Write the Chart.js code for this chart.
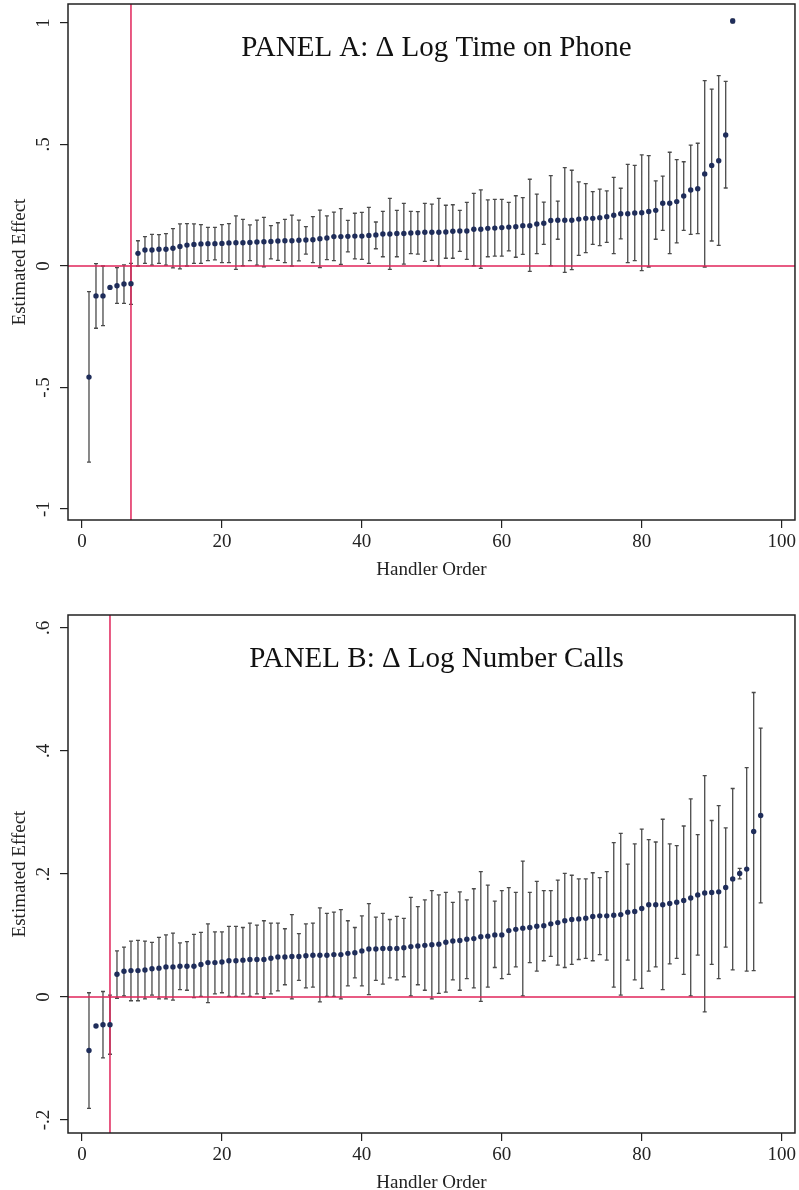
<!DOCTYPE html>
<html>
<head>
<meta charset="utf-8">
<script src="https://cdn.jsdelivr.net/npm/chart.js@4.4.1/dist/chart.umd.min.js"></script>
<style>
  html, body { margin: 0; padding: 0; background: #fff; }
  #wrap { position: relative; width: 799px; height: 1190px; }
  canvas { position: absolute; left: 0; }
</style>
</head>
<body>
<div id="wrap">
  <canvas id="panelA" width="799" height="598" style="top:0"></canvas>
  <canvas id="panelB" width="799" height="590" style="top:600px"></canvas>
</div>
<script>
// handler-order plots: estimated effect per handler with 95% CI bars

const FONT = '"Liberation Serif", "Times New Roman", serif';
const RED = '#e0245a';
const DOT = '#1f2d5a';
const BAR = '#4a4a4a';

const xTicks = [0, 20, 40, 60, 80, 100];
const aYTicks = [1, 0.5, 0, -0.5, -1];
const aYLabels = ['1', '.5', '0', '-.5', '-1'];
const bYTicks = [0.6, 0.4, 0.2, 0, -0.2];
const bYLabels = ['.6', '.4', '.2', '0', '-.2'];

// Panel A: Δ log time on phone (handlers 1..93)
const aEst = [
  -0.457, -0.123, -0.123, -0.088, -0.081, -0.074, -0.073, 0.052, 0.066, 0.066,
  0.069, 0.069, 0.073, 0.080, 0.086, 0.089, 0.091, 0.092, 0.092, 0.093,
  0.095, 0.096, 0.096, 0.097, 0.099, 0.100, 0.101, 0.103, 0.104, 0.104,
  0.106, 0.107, 0.108, 0.112, 0.115, 0.121, 0.121, 0.122, 0.123, 0.123,
  0.126, 0.128, 0.132, 0.132, 0.134, 0.134, 0.136, 0.137, 0.139, 0.139,
  0.139, 0.140, 0.143, 0.144, 0.144, 0.151, 0.151, 0.155, 0.156, 0.158,
  0.160, 0.162, 0.166, 0.166, 0.173, 0.176, 0.187, 0.188, 0.188, 0.188,
  0.193, 0.196, 0.196, 0.199, 0.203, 0.209, 0.215, 0.215, 0.218, 0.219,
  0.224, 0.229, 0.258, 0.258, 0.265, 0.288, 0.313, 0.318, 0.379, 0.414,
  0.433, 0.539, 1.008
];
const aHi = [
  -0.105, 0.010, 0.000, null, -0.007, 0.005, 0.011, 0.104, 0.121, 0.130,
  0.129, 0.133, 0.154, 0.173, 0.174, 0.173, 0.170, 0.159, 0.159, 0.170,
  0.174, 0.206, 0.192, 0.169, 0.189, 0.200, 0.166, 0.178, 0.192, 0.209,
  0.189, 0.162, 0.203, 0.230, 0.206, 0.222, 0.236, 0.188, 0.217, 0.221,
  0.241, 0.181, 0.225, 0.278, 0.229, 0.258, 0.225, 0.224, 0.258, 0.255,
  0.278, 0.250, 0.252, 0.229, 0.262, 0.299, 0.313, 0.272, 0.274, 0.274,
  0.262, 0.289, 0.281, 0.357, 0.296, 0.263, 0.372, 0.267, 0.405, 0.394,
  0.346, 0.339, 0.306, 0.316, 0.309, 0.365, 0.320, 0.418, 0.414, 0.457,
  0.454, 0.350, 0.370, 0.468, 0.438, 0.429, 0.497, 0.505, 0.763, 0.728,
  0.783, 0.760, 1.016
];
const aLo = [
  -0.807, -0.256, -0.245, null, -0.154, -0.154, -0.158, 0.000, 0.011, 0.004,
  0.011, 0.004, -0.008, -0.012, 0.000, 0.011, 0.011, 0.022, 0.025, 0.014,
  0.014, -0.014, 0.001, 0.022, 0.004, -0.003, 0.029, 0.023, 0.014, 0.000,
  0.021, 0.049, 0.014, -0.007, 0.026, 0.022, 0.007, 0.058, 0.029, 0.027,
  0.011, 0.071, 0.038, -0.014, 0.038, 0.008, 0.051, 0.049, 0.019, 0.023,
  0.000, 0.032, 0.032, 0.060, 0.027, 0.001, -0.010, 0.038, 0.041, 0.041,
  0.062, 0.036, 0.048, -0.022, 0.051, 0.089, 0.001, 0.110, -0.026, -0.015,
  0.044, 0.055, 0.089, 0.084, 0.097, 0.051, 0.112, 0.014, 0.022, -0.019,
  -0.004, 0.110, 0.147, 0.051, 0.095, 0.147, 0.130, 0.133, -0.004, 0.103,
  0.085, 0.321, 1.000
];

// Panel B: Δ log number calls (handlers 1..97)
const bEst = [
  -0.087, -0.047, -0.045, -0.045, 0.037, 0.042, 0.043, 0.043, 0.044, 0.046,
  0.047, 0.049, 0.049, 0.050, 0.050, 0.050, 0.053, 0.056, 0.056, 0.057,
  0.059, 0.059, 0.060, 0.061, 0.061, 0.061, 0.063, 0.065, 0.065, 0.066,
  0.066, 0.067, 0.068, 0.068, 0.068, 0.069, 0.069, 0.071, 0.072, 0.075,
  0.078, 0.078, 0.079, 0.079, 0.079, 0.080, 0.082, 0.083, 0.084, 0.085,
  0.086, 0.089, 0.091, 0.092, 0.094, 0.095, 0.098, 0.099, 0.101, 0.101,
  0.108, 0.110, 0.112, 0.113, 0.115, 0.116, 0.119, 0.121, 0.124, 0.126,
  0.127, 0.128, 0.131, 0.132, 0.132, 0.133, 0.134, 0.138, 0.139, 0.144,
  0.150, 0.150, 0.150, 0.152, 0.154, 0.157, 0.161, 0.166, 0.169, 0.170,
  0.171, 0.178, 0.192, 0.201, 0.208, 0.269, 0.295
];
const bHi = [
  0.007, null, 0.009, 0.003, 0.075, 0.081, 0.091, 0.092, 0.091, 0.089,
  0.097, 0.101, 0.104, 0.088, 0.090, 0.102, 0.105, 0.119, 0.106, 0.106,
  0.115, 0.115, 0.113, 0.120, 0.117, 0.124, 0.120, 0.120, 0.111, 0.134,
  0.103, 0.119, 0.120, 0.145, 0.136, 0.138, 0.142, 0.124, 0.113, 0.132,
  0.152, 0.130, 0.136, 0.126, 0.131, 0.128, 0.162, 0.147, 0.158, 0.173,
  0.166, 0.170, 0.154, 0.171, 0.158, 0.176, 0.204, 0.182, 0.156, 0.173,
  0.178, 0.170, 0.221, 0.170, 0.188, 0.173, 0.173, 0.190, 0.201, 0.198,
  0.192, 0.192, 0.202, 0.194, 0.204, 0.251, 0.266, 0.216, 0.249, 0.273,
  0.256, 0.252, 0.289, 0.249, 0.246, 0.278, 0.322, 0.264, 0.360, 0.287,
  0.311, 0.275, 0.339, 0.209, 0.373, 0.495, 0.437
];
const bLo = [
  -0.181, null, -0.099, -0.093, -0.002, 0.002, -0.006, -0.006, -0.003, 0.003,
  -0.003, -0.003, -0.005, 0.012, 0.011, -0.001, 0.001, -0.009, 0.005, 0.007,
  0.001, 0.001, 0.005, 0.001, 0.005, -0.002, 0.005, 0.010, 0.020, -0.003,
  0.027, 0.015, 0.016, -0.008, 0.001, 0.001, -0.003, 0.018, 0.031, 0.018,
  0.004, 0.027, 0.021, 0.031, 0.028, 0.033, 0.002, 0.020, 0.011, -0.003,
  0.006, 0.008, 0.028, 0.011, 0.030, 0.015, -0.007, 0.016, 0.048, 0.030,
  0.037, 0.049, 0.002, 0.056, 0.042, 0.059, 0.066, 0.052, 0.048, 0.053,
  0.061, 0.063, 0.059, 0.069, 0.060, 0.016, 0.003, 0.060, 0.028, 0.014,
  0.042, 0.049, 0.012, 0.054, 0.063, 0.037, 0.002, 0.068, -0.024, 0.053,
  0.030, 0.081, 0.044, 0.192, 0.042, 0.043, 0.153
];

function panel(id, cfg) {
  const { title, est, lo, hi, refX, yMin, yMax, yTicks, yLabels, padTop, xHeight } = cfg;

  const overlay = {
    id: 'overlay_' + id,
    beforeDatasetsDraw(chart) {
      const { ctx, chartArea: a, scales: { x, y } } = chart;
      // CI bars first, reference lines on top of them
      ctx.save();
      ctx.beginPath();
      ctx.rect(a.left, a.top, a.right - a.left, a.bottom - a.top);
      ctx.clip();
      ctx.strokeStyle = BAR;
      ctx.lineWidth = 1.3;
      ctx.beginPath();
      lo.forEach((l, i) => {
        if (l == null || hi[i] == null) return;
        const px = x.getPixelForValue(i + 1);
        const p1 = y.getPixelForValue(l), p2 = y.getPixelForValue(hi[i]);
        ctx.moveTo(px, p1); ctx.lineTo(px, p2);
        ctx.moveTo(px - 2, p1); ctx.lineTo(px + 2, p1);
        ctx.moveTo(px - 2, p2); ctx.lineTo(px + 2, p2);
      });
      ctx.stroke();
      ctx.strokeStyle = RED;
      ctx.lineWidth = 1.5;
      const y0 = y.getPixelForValue(0);
      const xr = x.getPixelForValue(refX);
      ctx.beginPath();
      ctx.moveTo(a.left, y0); ctx.lineTo(a.right, y0);
      ctx.stroke();
      ctx.beginPath();
      ctx.moveTo(xr, a.top); ctx.lineTo(xr, a.bottom);
      ctx.stroke();
      ctx.restore();
    },
    afterDraw(chart) {
      const { ctx, chartArea: a, scales: { y } } = chart;
      ctx.save();
      // frame
      ctx.strokeStyle = '#222';
      ctx.lineWidth = 1.5;
      ctx.strokeRect(a.left, a.top, a.right - a.left, a.bottom - a.top);
      ctx.fillStyle = '#222';
      // rotated y tick labels
      ctx.font = '19px ' + FONT;
      ctx.textAlign = 'center';
      ctx.textBaseline = 'middle';
      yTicks.forEach((v, i) => {
        ctx.save();
        ctx.translate(a.left - 24, y.getPixelForValue(v));
        ctx.rotate(-Math.PI / 2);
        ctx.fillText(yLabels[i], 0, 0);
        ctx.restore();
      });
      // y title
      ctx.save();
      ctx.translate(20, (a.top + a.bottom) / 2);
      ctx.rotate(-Math.PI / 2);
      ctx.fillText('Estimated Effect', 0, 0);
      ctx.restore();
      // x title
      ctx.fillText('Handler Order', (a.left + a.right) / 2, a.bottom + 50);
      // panel title inside plot
      ctx.font = '29px ' + FONT;
      ctx.fillStyle = '#111';
      ctx.fillText(title, (a.left + a.right) / 2 + 5, a.top + 44);
      ctx.restore();
    }
  };

  return new Chart(document.getElementById(id), {
    type: 'scatter',
    data: {
      datasets: [{
        data: est.map((v, i) => ({ x: i + 1, y: v })),
        backgroundColor: DOT,
        borderColor: DOT,
        pointRadius: 2.7,
        borderWidth: 0
      }]
    },
    options: {
      responsive: false,
      animation: false,
      devicePixelRatio: 1,
      events: [],
      layout: { padding: { top: padTop, right: 4, left: 0, bottom: 0 } },
      plugins: { legend: { display: false }, tooltip: { enabled: false } },
      scales: {
        x: {
          type: 'linear', min: -2, max: 101.9,
          afterBuildTicks: s => { s.ticks = xTicks.map(v => ({ value: v })); },
          afterFit: s => { s.height = xHeight; },
          ticks: { font: { family: FONT, size: 19 }, color: '#222', padding: 3, maxRotation: 0, autoSkip: false },
          grid: { drawOnChartArea: false, drawTicks: true, tickLength: 8, color: '#222', lineWidth: 1.2 },
          border: { display: false }
        },
        y: {
          min: yMin, max: yMax,
          afterBuildTicks: s => { s.ticks = yTicks.map(v => ({ value: v })); },
          afterFit: s => { s.width = 68; },
          ticks: { display: false },
          grid: { drawOnChartArea: false, drawTicks: true, tickLength: 8, color: '#222', lineWidth: 1.2 },
          border: { display: false }
        }
      }
    },
    plugins: [overlay]
  });
}

panel('panelA', {
  title: 'PANEL A: \u0394 Log Time on Phone',
  est: aEst, lo: aLo, hi: aHi, refX: 7,
  yMin: -1.045, yMax: 1.078, yTicks: aYTicks, yLabels: aYLabels,
  padTop: 4, xHeight: 78
});

panel('panelB', {
  title: 'PANEL B: \u0394 Log Number Calls',
  est: bEst, lo: bLo, hi: bHi, refX: 4,
  yMin: -0.221, yMax: 0.621, yTicks: bYTicks, yLabels: bYLabels,
  padTop: 15, xHeight: 57
});
</script>
</body>
</html>
